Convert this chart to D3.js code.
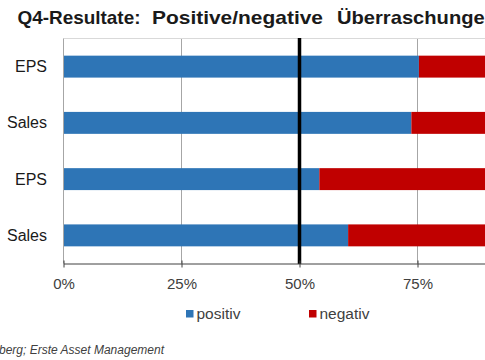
<!DOCTYPE html>
<html><head><meta charset="utf-8">
<script src="https://cdn.jsdelivr.net/npm/d3@7"></script>
<style>
html,body{margin:0;padding:0;background:#fff;overflow:hidden;}
svg{display:block;font-family:"Liberation Sans",Arial,sans-serif;}
</style></head>
<body>
<svg id="c" width="485" height="360"></svg>
<script>
const categories = ["EPS", "Sales", "EPS", "Sales"];
const positiv = [75.3, 73.7, 54.2, 60.3];
const negativ = [24.7, 26.3, 45.8, 39.7];
const tickValues = [0, 25, 50, 75];
const seriesNames = ["positiv", "negativ"];
const titleParts = ["Q4-Resultate:", "Positive/negative", "Überraschungen"];
const colors = ["#2E75B6", "#C00000"];

const svg = d3.select("#c");
const x = d3.scaleLinear().domain([0, 100]).range([63.5, 535.5]);
const y = d3.scaleBand().domain(d3.range(categories.length)).range([38.5, 263.5]).paddingInner(0.61).paddingOuter(0.305);

// title (three word groups, slightly stretched as in the reference)
const tx = [17.5, 152, 337];
const tl = [123, 171, 160];
svg.append("g").selectAll("text").data(titleParts).join("text")
  .attr("x", (d, i) => tx[i]).attr("y", 24).attr("font-size", 18.5).attr("font-weight", "bold")
  .attr("fill", "#1a1a1a").attr("textLength", (d, i) => tl[i]).attr("lengthAdjust", "spacingAndGlyphs")
  .text(d => d);

// gridlines
svg.append("g").selectAll("line").data(tickValues.filter(d => d > 0)).join("line")
  .attr("x1", d => x(d)).attr("x2", d => x(d)).attr("y1", 38.5).attr("y2", 263.5)
  .attr("stroke", "#a6a6a6").attr("stroke-width", 1);
svg.append("line").attr("x1", 63.5).attr("x2", 535.5).attr("y1", 38.5).attr("y2", 38.5)
  .attr("stroke", "#d9d9d9");

// bars
const stack = categories.map((c, i) => [
  {s: 0, x0: 0, x1: positiv[i], i},
  {s: 1, x0: positiv[i], x1: positiv[i] + negativ[i], i}
]).flat();
svg.append("g").selectAll("rect").data(stack).join("rect")
  .attr("x", d => x(d.x0)).attr("width", d => x(d.x1) - x(d.x0))
  .attr("y", d => y(d.i)).attr("height", y.bandwidth())
  .attr("fill", d => colors[d.s]);

// left axis line
svg.append("line").attr("x1", 63.5).attr("x2", 63.5).attr("y1", 38.5).attr("y2", 263.5)
  .attr("stroke", "#a6a6a6");

// 50% threshold line
svg.append("line").attr("x1", x(50)).attr("x2", x(50)).attr("y1", 38).attr("y2", 264)
  .attr("stroke", "#000").attr("stroke-width", 3.5);

// x axis
const xa = svg.append("g").attr("transform", "translate(0,263.5)")
  .call(d3.axisBottom(x).tickValues(tickValues).tickSize(4).tickSizeOuter(0).tickFormat(d => d + "%"));
xa.select(".domain").attr("stroke", "#404040");
xa.selectAll(".tick line").attr("stroke", "#404040").attr("y1", -3);
xa.selectAll(".tick text").attr("font-size", 15).attr("fill", "#404040").attr("dy", 0).attr("y", 25)
  .attr("font-family", "Liberation Sans, Arial, sans-serif");

// y labels
svg.append("g").selectAll("text").data(categories).join("text")
  .attr("x", 47).attr("y", (d, i) => y(i) + y.bandwidth() / 2 + 5.5)
  .attr("text-anchor", "end").attr("font-size", 16).attr("fill", "#1a1a1a").text(d => d);

// legend
const lx = [186, 309];
const lg = svg.append("g").selectAll("g").data(seriesNames).join("g")
  .attr("transform", (d, i) => `translate(${lx[i]},310)`);
lg.append("rect").attr("width", 7.5).attr("height", 7.5).attr("fill", (d, i) => colors[i]);
lg.append("text").attr("x", 10.5).attr("y", 9).attr("font-size", 15.5).attr("fill", "#404040").text(d => d);

// source
svg.append("text").attr("x", 164).attr("y", 354).attr("text-anchor", "end")
  .attr("font-size", 12).attr("font-style", "italic").attr("fill", "#404040")
  .text("Quelle: Bloomberg; Erste Asset Management");
</script>
</body></html>
